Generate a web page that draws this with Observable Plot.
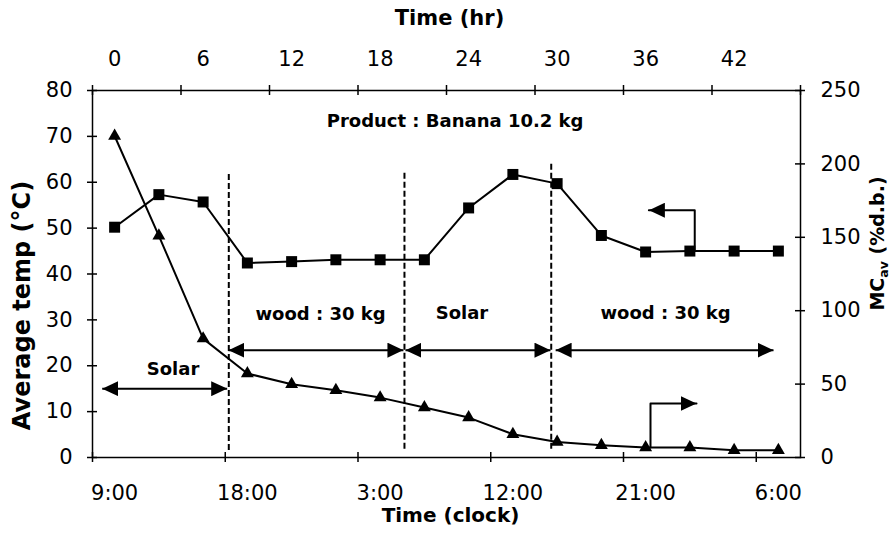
<!DOCTYPE html>
<html>
<head>
<meta charset="utf-8">
<script src="https://cdn.jsdelivr.net/npm/d3@7"></script>
<script src="https://cdn.jsdelivr.net/npm/@observablehq/plot@0.6"></script>
<style>
  html, body { margin: 0; padding: 0; background: #fff; }
</style>
</head>
<body>
<div id="chart"></div>
<script>
// Drying run of 10.2 kg banana: average temperature and moisture content every 3 h
const hours = [0, 3, 6, 9, 12, 15, 18, 21, 24, 27, 30, 33, 36, 39, 42, 45];
const avgTemp = [50.2, 57.3, 55.7, 42.4, 42.7, 43.1, 43.1, 43.1, 54.4, 61.7, 59.7, 48.4, 44.8, 45.0, 45.0, 45.0];
const moisture = [219, 151, 81, 57.2, 49.9, 45.8, 40.8, 34.0, 27.2, 15.9, 10.6, 8.4, 6.8, 6.8, 5.0, 5.0];

// Axis ticks and labels (x in elapsed hours)
const clockLabels = ["9:00", "18:00", "3:00", "12:00", "21:00", "6:00"];
const clockLabelHours = [0, 9, 18, 27, 36, 45];
const clockTickHours = [-1.5, 7.5, 16.5, 25.5, 34.5, 43.5];
const elapsedLabels = [0, 6, 12, 18, 24, 30, 36, 42];
const elapsedTickHours = [-1.5, 4.5, 10.5, 16.5, 22.5, 28.5, 34.5, 40.5, 46.5];
const tempTicks = [0, 10, 20, 30, 40, 50, 60, 70, 80];
const moistureTicks = [0, 50, 100, 150, 200, 250];

// Heating phases
const phaseNames = ["Solar", "wood : 30 kg", "Solar", "wood : 30 kg"];
const phaseFrom = [-0.84, 7.72, 19.72, 29.9];
const phaseTo = [7.63, 19.58, 29.55, 44.67];
const phaseArrowTemp = [15.0, 23.4, 23.4, 23.4];
const phaseLabelHour = [3.96, 13.96, 23.55, 37.35];
const phaseLabelTemp = [19.3, 31.2, 31.4, 31.4];
const switchHours = [7.74, 19.65, 29.6];
const switchTop = [61.9, 62.6, 64.1];
const switchBottom = [1.5, 1.8, 1.8];

// Product note
const noteText = ["Product : Banana 10.2 kg"];
const noteHour = [23.08];
const noteTemp = [73.4];

// Pointers from each curve to its own axis
const tempPointerHour = [39.33, 39.33, 36.22];
const tempPointerTemp = [45.0, 53.9, 53.9];
const mcPointerHour = [36.33, 36.33, 39.45];
const mcPointerMoisture = [6.8, 36.8, 36.8];

// Moisture (0–250) shares the temperature (0–80) frame
const k = 80 / 250;

const rows = hours.map((h, i) => ({hour: h, temp: avgTemp[i], mc: moisture[i]}));
const phases = phaseNames.map((name, i) => ({
  name, from: phaseFrom[i], to: phaseTo[i], y: phaseArrowTemp[i],
  lx: phaseLabelHour[i], ly: phaseLabelTemp[i]
}));
const switches = switchHours.map((h, i) => ({hour: h, top: switchTop[i], bottom: switchBottom[i]}));
const tempPointer = tempPointerHour.map((h, i) => ({hour: h, temp: tempPointerTemp[i]}));
const mcPointer = mcPointerHour.map((h, i) => ({hour: h, mc: mcPointerMoisture[i]}));

// Solid triangular arrowhead
function arrowHead(color) {
  const ns = "http://www.w3.org/2000/svg";
  const m = document.createElementNS(ns, "marker");
  m.setAttribute("viewBox", "-16 -7.5 16 15");
  m.setAttribute("markerWidth", 16);
  m.setAttribute("markerHeight", 15);
  m.setAttribute("markerUnits", "userSpaceOnUse");
  m.setAttribute("refX", 0);
  m.setAttribute("refY", 0);
  m.setAttribute("orient", "auto-start-reverse");
  const p = document.createElementNS(ns, "path");
  p.setAttribute("d", "M0,0L-16,-7.5L-16,7.5Z");
  p.setAttribute("fill", color || "black");
  p.setAttribute("stroke", "none");
  m.appendChild(p);
  return m;
}

const ink = "black";
const tick = {stroke: ink, strokeWidth: 1.5};

const chart = Plot.plot({
  width: 896,
  height: 540,
  marginLeft: 92,
  marginRight: 96,
  marginTop: 90,
  marginBottom: 83,
  style: {fontFamily: "'DejaVu Sans', sans-serif", fontSize: "21px", color: ink, background: "white", overflow: "visible"},
  x: {domain: [-1.5, 46.5], axis: null},
  y: {domain: [0, 80], axis: null},
  marks: [
    Plot.frame({stroke: ink, strokeWidth: 1.5}),

    // tick marks crossing the frame
    Plot.ruleX(clockTickHours, {y1: 0, y2: 0, insetTop: -5, insetBottom: -5, ...tick}),
    Plot.ruleX(elapsedTickHours, {y1: 80, y2: 80, insetTop: -5, insetBottom: -5, ...tick}),
    Plot.ruleY(tempTicks, {x1: -1.5, x2: -1.5, insetLeft: -5, insetRight: -5, ...tick}),
    Plot.ruleY(moistureTicks, {y: (d) => d * k, x1: 46.5, x2: 46.5, insetLeft: -5, insetRight: -5, ...tick}),

    // tick labels
    Plot.axisX({anchor: "bottom", ticks: clockLabelHours, tickSize: 0, tickPadding: 28, fontSize: 21,
      tickFormat: (d) => clockLabels[clockLabelHours.indexOf(d)], label: null}),
    Plot.axisX({anchor: "top", ticks: elapsedLabels, tickSize: 0, tickPadding: 25, fontSize: 21,
      tickFormat: (d) => String(d), label: null}),
    Plot.axisY({anchor: "left", ticks: tempTicks, tickSize: 0, tickPadding: 20, fontSize: 21,
      tickFormat: (d) => String(d), label: null}),
    Plot.axisY({anchor: "right", ticks: moistureTicks.map((v) => v * k), tickSize: 0, tickPadding: 20, fontSize: 21,
      tickFormat: (d) => String(Math.round(d / k)), label: null}),

    // axis titles
    Plot.text(["Time (hr)"], {frameAnchor: "top", lineAnchor: "bottom", textAnchor: "middle", dx: 3, dy: -66,
      fontWeight: "bold", fontSize: 21}),
    Plot.text(["Time (clock)"], {frameAnchor: "bottom", lineAnchor: "bottom", textAnchor: "middle", dx: 4, dy: 64,
      fontWeight: "bold", fontSize: 20}),
    Plot.text(["Average temp (°C)"], {frameAnchor: "left", textAnchor: "middle", rotate: -90, dx: -70, dy: 31.5,
      fontWeight: "bold", fontSize: 24}),
    Plot.text(["MCav (%d.b.)"], {frameAnchor: "right", textAnchor: "middle", rotate: -90, dx: 77, dy: -30.5,
      fontWeight: "bold", fontSize: 19}),

    // phase boundaries
    Plot.ruleX(switches, {x: "hour", y1: "bottom", y2: "top", stroke: ink, strokeWidth: 2, strokeDasharray: "6,3"}),

    // phase arrows and names
    Plot.link(phases, {x1: "from", x2: "to", y1: "y", y2: "y", stroke: ink, strokeWidth: 2,
      markerStart: arrowHead, markerEnd: arrowHead}),
    Plot.text(phases, {x: "lx", y: "ly", text: "name", fontWeight: "bold", fontSize: 18}),

    // product note
    Plot.text(noteText, {x: (d, i) => noteHour[i], y: (d, i) => noteTemp[i], text: (d) => d,
      fontWeight: "bold", fontSize: 18}),

    // series
    Plot.line(rows, {x: "hour", y: "temp", stroke: ink, strokeWidth: 2}),
    Plot.line(rows, {x: "hour", y: (d) => d.mc * k, stroke: ink, strokeWidth: 2}),
    Plot.dot(rows, {x: "hour", y: "temp", symbol: "square", r: 6.2, fill: ink}),
    Plot.dot(rows, {x: "hour", y: (d) => d.mc * k, symbol: "triangle", r: 4.8, fill: ink}),

    // axis pointers
    Plot.line(tempPointer, {x: "hour", y: "temp", stroke: ink, strokeWidth: 2, markerEnd: arrowHead}),
    Plot.line(mcPointer, {x: "hour", y: (d) => d.mc * k, stroke: ink, strokeWidth: 2, markerEnd: arrowHead})
  ]
});

// subscript in the moisture axis title
d3.select(chart).selectAll("text")
  .filter(function () { return this.textContent === "MCav (%d.b.)"; })
  .each(function () {
    const t = d3.select(this);
    t.text(null);
    t.append("tspan").text("MC");
    t.append("tspan").attr("font-size", "12.5px").attr("dy", "4").text("av");
    t.append("tspan").attr("dy", "-4").text(" (%d.b.)");
  });

document.getElementById("chart").appendChild(chart);
</script>
</body>
</html>
